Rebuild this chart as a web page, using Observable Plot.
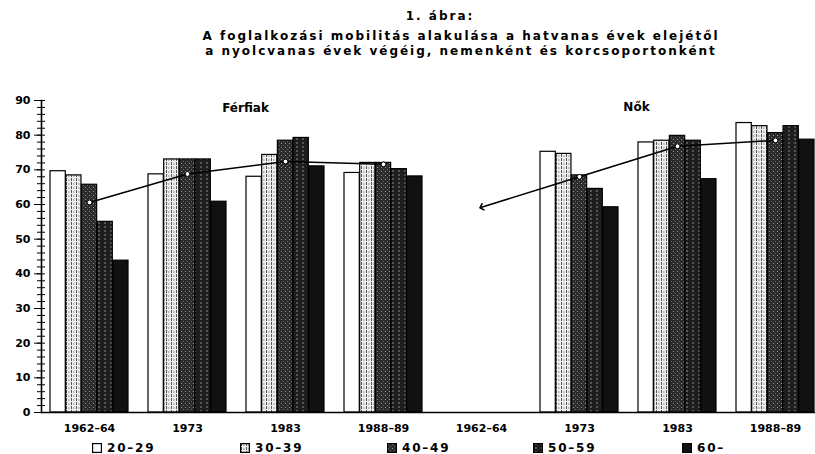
<!DOCTYPE html>
<html><head><meta charset="utf-8">
<script src="https://cdn.jsdelivr.net/npm/d3@7"></script>
<script src="https://cdn.jsdelivr.net/npm/@observablehq/plot@0.6"></script>
<style>
body{margin:0;background:#fff;font-family:"DejaVu Sans",sans-serif;color:#000}
#wrap{position:relative;width:815px;height:454px;overflow:hidden}
.t{position:absolute;left:0;width:922px;text-align:center;font-size:12px;font-weight:bold;letter-spacing:2px;white-space:nowrap;line-height:14px}
#chart{position:absolute;left:0;top:62px}
.lg{position:absolute;top:442px;height:12px;font-size:12px;font-weight:bold;letter-spacing:1.8px;display:flex;align-items:center;gap:5px;white-space:nowrap}
#defs{position:absolute;width:0;height:0}
</style></head>
<body>
<div id="wrap">
<svg id="defs" width="0" height="0">
<defs>
<pattern id="p30" width="5" height="4" patternUnits="userSpaceOnUse">
<rect width="5" height="4" fill="#eeeeee"/>
<rect x="1" y="0" width="1" height="3" fill="#555"/>
<rect x="3.5" y="1" width="0.8" height="2" fill="#888"/>
</pattern>
<pattern id="p40" width="4" height="4" patternUnits="userSpaceOnUse">
<rect width="4" height="4" fill="#2b2b2b"/>
<rect x="1" y="1" width="1" height="1" fill="#9a9a9a"/>
<rect x="3" y="3" width="1" height="1" fill="#6a6a6a"/>
</pattern>
<pattern id="p50" width="6" height="4" patternUnits="userSpaceOnUse">
<rect width="6" height="4" fill="#1e1e1e"/>
<rect x="2.5" y="0" width="1" height="2" fill="#8c8c8c"/>
</pattern>
</defs>
</svg>
<div class="t" style="top:9px;width:880px">1. ábra:</div>
<div class="t" style="top:29px">A foglalkozási mobilitás alakulása a hatvanas évek elejétől</div>
<div class="t" style="top:44px">a nyolcvanas évek végéig, nemenként és korcsoportonként</div>
<div id="chart"></div>
<div id="legend"></div>
</div>
<script>
const periods = ["1962–64", "1973", "1983", "1988–89"];
const sexes = ["Férfiak", "Nők"];
const ageGroups = ["20–29", "30–39", "40–49", "50–59", "60–"];
// bar values per period (rows) and age group (columns)
const menBars = [
  [69.6, 68.4, 65.7, 55.0, 43.8],
  [68.7, 73.0, 73.0, 73.0, 60.8],
  [68.0, 74.3, 78.4, 79.2, 71.0],
  [69.1, 72.0, 72.0, 70.2, 68.1]
];
const womenBars = [
  null,
  [75.2, 74.6, 68.4, 64.5, 59.2],
  [77.9, 78.4, 79.8, 78.4, 67.3],
  [83.5, 82.6, 80.6, 82.6, 78.7]
];
// connecting line (average) per period
const menLine = [60.6, 68.8, 72.4, 71.6];
const womenLine = [59.2, 68.0, 76.8, 78.5];
const yTicks = [0, 10, 20, 30, 40, 50, 60, 70, 80, 90];
const yMinor = d3.range(0, 91, 2);

const fills = ["#ffffff", "url(#p30)", "url(#p40)", "url(#p50)", "#111111"];
const keys = sexes.flatMap(s => periods.map(p => s + "|" + p));
const bars = [];
[menBars, womenBars].forEach((arr, si) => {
  arr.forEach((row, pi) => {
    if (!row) return;
    row.forEach((v, ai) => bars.push({key: sexes[si] + "|" + periods[pi], age: ageGroups[ai], value: v}));
  });
});
const menPts = menLine.map((v, i) => ({key: "Férfiak|" + periods[i], value: v}));
const womenPts = womenLine.map((v, i) => ({key: "Nők|" + periods[i], value: v}));

const bw = 78.4 / 5;
const barMarks = ageGroups.map((a, j) => Plot.barY(bars.filter(d => d.age === a), {
  x: "key", y: "value", fill: fills[j], stroke: "#000", strokeWidth: 1.2,
  insetLeft: j * bw, insetRight: (4 - j) * bw
}));

const plot = Plot.plot({
  width: 815, height: 378,
  marginTop: 38, marginBottom: 28, marginLeft: 41, marginRight: 0,
  style: {fontFamily: "DejaVu Sans, sans-serif", fontSize: "11px", fontWeight: "bold", color: "#000", background: "transparent", overflow: "visible"},
  x: {domain: keys, range: [40, 824], paddingInner: 0.2, paddingOuter: 0.1, label: null},
  y: {domain: [0, 90], label: null},
  marks: [
    ...barMarks,
    Plot.line(menPts, {x: "key", y: "value", stroke: "#000", strokeWidth: 1.6}),
    Plot.line(womenPts, {x: "key", y: "value", stroke: "#000", strokeWidth: 1.6, markerStart: "arrow-reverse"}),
    Plot.dot(menPts, {x: "key", y: "value", r: 2.4, fill: "#fff", stroke: "#000", strokeWidth: 1}),
    Plot.dot(womenPts.slice(1), {x: "key", y: "value", r: 2.4, fill: "#fff", stroke: "#000", strokeWidth: 1}),
    Plot.text(["Férfiak"], {x: () => "Férfiak|1973", y: () => 87.7, dx: 58, text: d => d, fontSize: 12, fontWeight: "bold"}),
    Plot.text(["Nők"], {x: () => "Nők|1983", y: () => 88.2, dx: -41, text: d => d, fontSize: 12, fontWeight: "bold"}),
    Plot.ruleY([0], {stroke: "#000", strokeWidth: 1.6}),
    Plot.frame({anchor: "left", stroke: "#000", strokeWidth: 1.6}),
    Plot.axisY({ticks: yTicks, tickSize: 7, tickPadding: 4, tickFormat: d => String(d), fontSize: 11}),
    Plot.axisY({ticks: yMinor, tickSize: 4, text: null}),
    Plot.axisY({ticks: yMinor, tickSize: 4, dx: 4, text: null}),
    Plot.axisX({tickSize: 0, tickPadding: 12, tickFormat: k => k.split("|")[1], fontSize: 11})
  ]
});
document.getElementById("chart").appendChild(plot);

const legendPos = [92, 240, 387, 533, 682];
const lg = document.getElementById("legend");
ageGroups.forEach((a, j) => {
  const item = document.createElement("div");
  item.className = "lg";
  item.style.left = legendPos[j] + "px";
  item.innerHTML = `<svg width="10" height="10"><rect x="0.6" y="0.6" width="8.8" height="8.8" fill="${fills[j]}" stroke="#000" stroke-width="1.2"/></svg><span>${a}</span>`;
  lg.appendChild(item);
});
</script>
</body></html>
